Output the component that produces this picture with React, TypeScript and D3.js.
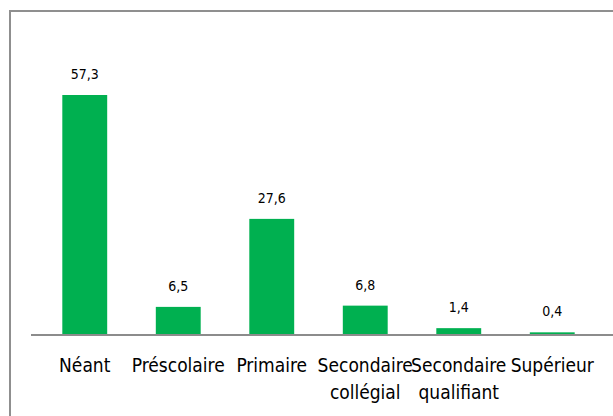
import { useEffect, useRef } from 'react';
import * as d3 from 'd3';

const categories = ['Néant', 'Préscolaire', 'Primaire', 'Secondaire\ncollégial', 'Secondaire\nqualifiant', 'Supérieur'];
const values = [57.3, 6.5, 27.6, 6.8, 1.4, 0.4];
const valueLabels = ['57,3', '6,5', '27,6', '6,8', '1,4', '0,4'];

const FONT = '"DejaVu Sans Condensed", "Open Sans", sans-serif';

export default function App() {
  const svgRef = useRef<SVGSVGElement>(null);

  useEffect(() => {
    document.body.style.margin = '0';
    const svg = d3.select(svgRef.current);
    svg.selectAll('*').remove();

    const baseline = 334;
    const x = d3.scaleBand<number>()
      .domain(d3.range(categories.length))
      .range([38, 599])
      .paddingInner(0.52)
      .paddingOuter(0.26);

    const y = d3.scaleLinear()
      .domain([0, 57.3])
      .range([baseline, 95]);

    // Frame
    svg.append('rect')
      .attr('x', 10)
      .attr('y', 11)
      .attr('width', 700)
      .attr('height', 500)
      .attr('fill', 'none')
      .attr('stroke', '#8f8f8f')
      .attr('stroke-width', 2);

    // Bars
    svg.selectAll('rect.bar')
      .data(values)
      .join('rect')
      .attr('class', 'bar')
      .attr('x', (_, i) => x(i))
      .attr('y', d => y(d))
      .attr('width', x.bandwidth())
      .attr('height', d => baseline - y(d))
      .attr('fill', '#00b050');

    // Axis line
    svg.append('line')
      .attr('x1', 31)
      .attr('x2', 613)
      .attr('y1', baseline + 1)
      .attr('y2', baseline + 1)
      .attr('stroke', '#8c8c8c')
      .attr('stroke-width', 2);

    // Value labels
    svg.selectAll('text.val')
      .data(values)
      .join('text')
      .attr('class', 'val')
      .attr('x', (_, i) => x(i) + x.bandwidth() / 2)
      .attr('y', d => y(d) - 16)
      .attr('text-anchor', 'middle')
      .attr('font-family', FONT)
      .attr('font-size', 14)
      .attr('fill', '#000')
      .text((_, i) => valueLabels[i]);

    // Category labels
    categories.forEach((c, i) => {
      const cx = x(i) + x.bandwidth() / 2;
      const t = svg.append('text')
        .attr('x', cx)
        .attr('y', 372)
        .attr('text-anchor', 'middle')
        .attr('font-family', FONT)
        .attr('font-size', 19)
        .attr('fill', '#000');
      c.split('\n').forEach((line, j) => {
        t.append('tspan')
          .attr('x', cx)
          .attr('dy', j === 0 ? 0 : 27)
          .text(line);
      });
    });
  }, []);

  return <svg ref={svgRef} width={613} height={416} style={{ display: 'block', background: '#fff' }} />;
}
